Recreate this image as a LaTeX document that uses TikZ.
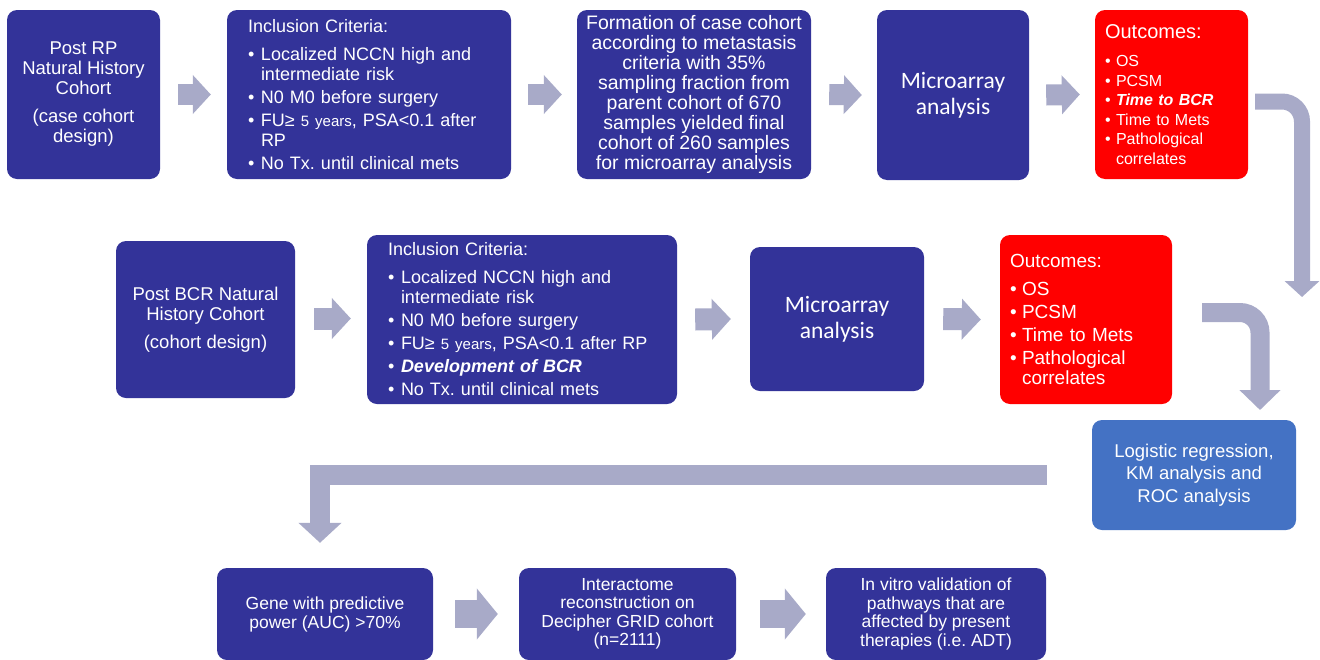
\documentclass[tikz,border=0pt]{standalone}
\usepackage{fontspec}
\setmainfont{Liberation Sans}
\newfontfamily\calfont{Carlito}
\usetikzlibrary{arrows.meta}
\definecolor{navy}{RGB}{51,51,153}
\definecolor{redc}{RGB}{255,0,0}
\definecolor{lgblue}{RGB}{68,114,196}
\definecolor{arrowc}{RGB}{168,170,200}
\newcommand\fsz[2]{\fontsize{#1}{#2}\selectfont}
\newcommand\bi[1]{\makebox[#1][l]{•}}
\frenchspacing
\begin{document}
\begin{tikzpicture}[x=1pt,y=-1pt,
  box/.style={fill=navy, rounded corners=10pt, text=white, inner sep=0pt, align=center},
  rbox/.style={box, fill=redc},
  rowarr/.style={draw=arrowc, line width=21pt, -{Triangle[width=38pt,length=18pt]}},
  rowarrm/.style={draw=arrowc, line width=22pt, -{Triangle[width=40pt,length=19pt]}},
  rowarrb/.style={draw=arrowc, line width=28pt, -{Triangle[width=50pt,length=21pt]}},
  bendarra/.style={draw=arrowc, line width=16pt, rounded corners=20pt, -{Triangle[width=34pt,length=16pt]}},
  bendarrm/.style={draw=arrowc, line width=19pt, rounded corners=20pt, -{Triangle[width=40pt,length=20pt]}},
  bendarrb/.style={draw=arrowc, line width=20pt, -{Triangle[width=42pt,length=20pt]}}
]
\useasboundingbox (0,0) rectangle (1320,659);
\fill[white] (0,0) rectangle (1320,659);
\clip (0,0) rectangle (1320,659);

% Row 1
\node[box, minimum width=153pt, minimum height=169pt, font=\fsz{18.5}{20}] (b1) at (83.5,94.5)
  {Post RP\\Natural History\\Cohort\\[8pt](case cohort\\design)};
\node[box, minimum width=284pt, minimum height=169pt, text width=242pt, align=left, font=\fsz{18}{20}] (b2) at (369,94.5)
  {Inclusion Criteria:\\[8pt]
   \bi{13pt}Localized NCCN high and\\\hspace*{13pt}intermediate risk\\[3pt]
   \bi{13pt}N0 M0 before surgery\\[3pt]
   \bi{13pt}FU≥ {\fsz{15}{20}5 years}, PSA<0.1 after\\\hspace*{13pt}RP\\[3pt]
   \bi{13pt}No Tx. until clinical mets};
\node[box, minimum width=234pt, minimum height=169pt, font=\fsz{19.5}{20}] (b3) at (694,94.5)
  {Formation of case cohort\\according to metastasis\\criteria with 35\%\\sampling fraction from\\parent cohort of 670\\samples yielded final\\cohort of 260 samples\\for microarray analysis};
\node[box, minimum width=152pt, minimum height=170pt, font=\calfont\fsz{23.5}{26}] (b4) at (953,95)
  {Microarray\\analysis};
\node[rbox, minimum width=153pt, minimum height=169pt, text width=133pt, align=left, font=\fsz{16}{19.5}] (b5) at (1171.5,94.5)
  {{\fsz{20}{20}Outcomes:}\\[9pt]
   \bi{11pt}OS\\
   \bi{11pt}PCSM\\
   \bi{11pt}\textbf{\textit{Time to BCR}}\\
   \bi{11pt}Time to Mets\\
   \bi{11pt}Pathological\\\hspace*{11pt}correlates};

\draw[rowarr] ([xshift=18pt]b1.east) -- ([xshift=-16pt]b2.west);
\draw[rowarr] ([xshift=17pt]b2.east) -- ([xshift=-15pt]b3.west);
\draw[rowarr] ([xshift=18pt]b3.east) -- ([xshift=-15pt]b4.west);
\draw[rowarr] ([xshift=17pt]b4.east) -- ([xshift=-15pt]b5.west);

% Row 2
\node[box, minimum width=179pt, minimum height=157pt, font=\fsz{18.5}{20}] (c1) at (205.5,319.5)
  {Post BCR Natural\\History Cohort\\[8pt](cohort design)};
\node[box, minimum width=310pt, minimum height=169pt, text width=268pt, align=left, font=\fsz{18}{20}] (c2) at (522,319.5)
  {Inclusion Criteria:\\[8pt]
   \bi{13pt}Localized NCCN high and\\\hspace*{13pt}intermediate risk\\[3pt]
   \bi{13pt}N0 M0 before surgery\\[3pt]
   \bi{13pt}FU≥ {\fsz{15}{20}5 years}, PSA<0.1 after RP\\[3pt]
   \bi{13pt}\textbf{\textit{Development of BCR}}\\[3pt]
   \bi{13pt}No Tx. until clinical mets};
\node[box, minimum width=174pt, minimum height=144pt, font=\calfont\fsz{23.5}{26}] (c3) at (837,319)
  {Microarray\\analysis};
\node[rbox, minimum width=172pt, minimum height=169pt, text width=152pt, align=left, font=\fsz{19}{20}] (c4) at (1086,319.5)
  {Outcomes:\\[8pt]
   \bi{12pt}OS\\[3pt]
   \bi{12pt}PCSM\\[3pt]
   \bi{12pt}Time to Mets\\[3pt]
   \bi{12pt}Pathological\\\hspace*{12pt}correlates};

\draw[rowarrm] ([xshift=19pt,yshift=1pt]c1.east) -- ([xshift=-16pt,yshift=1pt]c2.west);
\draw[rowarrm] ([xshift=18pt]c2.east) -- ([xshift=-19pt]c3.west);
\draw[rowarrm] ([xshift=19pt]c3.east) -- ([xshift=-19pt]c4.west);

% Bent arrows on the right
\coordinate (t1) at (1302,297);
\draw[bendarra] ([xshift=7pt,yshift=-7pt]b5.east) -| (t1);
\coordinate (t2) at (1260,410);
\draw[bendarrm] ([xshift=30pt,yshift=7pt]c4.east) -| (t2);

% Logistic box
\node[box, fill=lgblue, minimum width=204pt, minimum height=110pt, font=\fsz{18.5}{22.5}] (lg) at (1194,475)
  {Logistic regression,\\KM analysis and\\ROC analysis};

% Bottom row
\node[box, minimum width=216pt, minimum height=92pt, font=\fsz{17.5}{19}] (d1) at (325,614)
  {Gene with predictive\\power (AUC) >70\%};
\node[box, minimum width=217pt, minimum height=92pt, font=\fsz{17.5}{18.5}] (d2) at (627.5,614)
  {Interactome\\reconstruction on\\Decipher GRID cohort\\(n=2111)};
\node[box, minimum width=220pt, minimum height=92pt, font=\fsz{17.5}{18.5}] (d3) at (936,614)
  {In vitro validation of\\pathways that are\\affected by present\\therapies (i.e. ADT)};

\draw[bendarrb] ([xshift=-45pt]lg.west) -| ([xshift=-5pt,yshift=25pt]d1.north);
\draw[rowarrb] ([xshift=22pt]d1.east) -- ([xshift=-21pt]d2.west);
\draw[rowarrb] ([xshift=24pt]d2.east) -- ([xshift=-20pt]d3.west);
\end{tikzpicture}
\end{document}
